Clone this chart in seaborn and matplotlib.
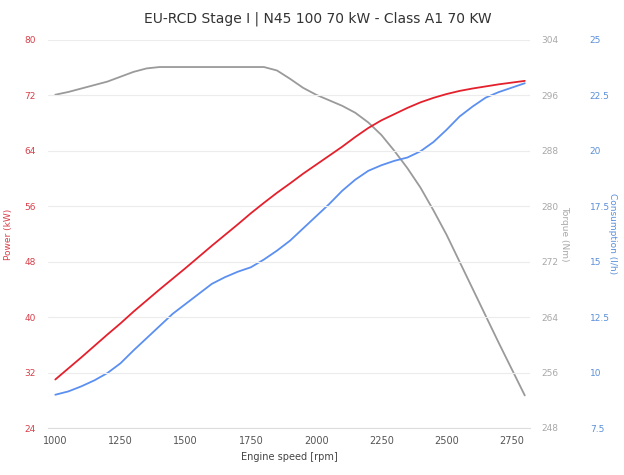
import matplotlib
matplotlib.use("Agg")
import matplotlib.pyplot as plt
import seaborn as sns
import pandas as pd

rpm = [1000, 1050, 1100, 1150, 1200, 1250, 1300, 1350, 1400, 1450,
       1500, 1550, 1600, 1650, 1700, 1750, 1800, 1850, 1900, 1950,
       2000, 2050, 2100, 2150, 2200, 2250, 2300, 2350, 2400, 2450,
       2500, 2550, 2600, 2650, 2700, 2750, 2800]
power_kw = [31.0, 32.6, 34.2, 35.85, 37.5, 39.1, 40.8, 42.4, 44.0, 45.55,
            47.1, 48.7, 50.3, 51.85, 53.4, 55.0, 56.5, 57.95, 59.3, 60.7,
            62.0, 63.3, 64.6, 66.0, 67.3, 68.4, 69.3, 70.2, 71.0, 71.65,
            72.2, 72.65, 73.0, 73.3, 73.6, 73.85, 74.1]
torque_nm = [296.1, 296.5, 297.0, 297.5, 298.0, 298.7, 299.4, 299.9, 300.1, 300.1,
             300.1, 300.1, 300.1, 300.1, 300.1, 300.1, 300.1, 299.6, 298.4, 297.1,
             296.1, 295.3, 294.5, 293.5, 292.1, 290.3, 288.0, 285.5, 282.7, 279.4,
             275.9, 272.0, 268.1, 264.2, 260.3, 256.5, 252.7]
consumption_lh = [9.0, 9.15, 9.38, 9.65, 9.98, 10.42, 11.0, 11.55, 12.1, 12.65,
                  13.1, 13.55, 14.0, 14.3, 14.55, 14.75, 15.1, 15.5, 15.95, 16.5,
                  17.05, 17.6, 18.2, 18.7, 19.1, 19.35, 19.55, 19.7, 19.98, 20.4,
                  20.95, 21.55, 22.0, 22.4, 22.65, 22.85, 23.05]

x_ticks = [1000, 1250, 1500, 1750, 2000, 2250, 2500, 2750]
power_ticks = [24, 32, 40, 48, 56, 64, 72, 80]
torque_ticks = [248, 256, 264, 272, 280, 288, 296, 304]
cons_ticks = [7.5, 10, 12.5, 15, 17.5, 20, 22.5, 25]
cons_labels = ["7.5", "10", "12.5", "15", "17.5", "20", "22.5", "25"]

title = "EU-RCD Stage I | N45 100 70 kW - Class A1 70 KW"

RED = "#e4202c"
GRAY = "#9a9a9a"
BLUE = "#5b8ff0"
RED_TXT = "#d8404a"
GRAY_TXT = "#a8a8a8"
BLUE_TXT = "#5a8fd8"

df = pd.DataFrame({"rpm": rpm, "power": power_kw, "torque": torque_nm, "cons": consumption_lh})

sns.set_style("white")
plt.rcParams["font.family"] = ["DejaVu Sans"]

fig = plt.figure(figsize=(6.24, 4.75), dpi=100)
ax = fig.add_axes([48/624, 1-428/475, (530-48)/624, (428-40)/475])
ax2 = ax.twinx()
ax3 = ax.twinx()

for a in (ax, ax2, ax3):
    for s in a.spines.values():
        s.set_visible(False)

ax.set_zorder(3); ax.patch.set_visible(False)
ax2.set_zorder(1); ax3.set_zorder(2)

sns.lineplot(data=df, x="rpm", y="power", ax=ax, color=RED, lw=1.3)
sns.lineplot(data=df, x="rpm", y="torque", ax=ax2, color=GRAY, lw=1.3)
sns.lineplot(data=df, x="rpm", y="cons", ax=ax3, color=BLUE, lw=1.3)

ax.set_xlim(972, 2820)
ax.set_ylim(24, 80)
ax2.set_ylim(248, 304)
ax3.set_ylim(7.5, 25)

ax.set_yticks(power_ticks)
ax.set_yticklabels([str(t) for t in power_ticks], color=RED_TXT, fontsize=6.5)
ax.tick_params(axis="y", length=0, pad=9)
ax.grid(axis="y", color="#ececec", lw=0.8)
ax.set_axisbelow(True)

ax.set_xticks(x_ticks)
ax.set_xticklabels([str(t) for t in x_ticks], color="#555555", fontsize=7)
ax.tick_params(axis="x", length=4, width=0.6, color="#cfcfcf", pad=6, direction="in")
ax.spines["bottom"].set_visible(True)
ax.spines["bottom"].set_color("#dddddd")
ax.spines["bottom"].set_linewidth(0.8)

ax2.set_yticks(torque_ticks)
ax2.set_yticklabels([str(t) for t in torque_ticks], color=GRAY_TXT, fontsize=6.5)
ax2.tick_params(axis="y", length=0, pad=8)

ax3.spines["right"].set_position(("outward", 35))
ax3.set_yticks(cons_ticks)
ax3.set_yticklabels(cons_labels, color=BLUE_TXT, fontsize=6.5)
ax3.tick_params(axis="y", length=0, pad=8)

ax.set_xlabel("Engine speed [rpm]", color="#444444", fontsize=7, labelpad=4)
ax.set_ylabel("Power (kW)", color=RED_TXT, fontsize=6.5, labelpad=8)
ax2.set_ylabel("Torque (Nm)", color=GRAY_TXT, fontsize=6.5, rotation=270, labelpad=8)
ax3.set_ylabel("Consumption (l/h)", color=BLUE_TXT, fontsize=6.5, rotation=270, labelpad=5)

fig.suptitle(title, x=0.51, y=0.975, fontsize=10, color="#333333")

fig.savefig("out.png", dpi=100)
